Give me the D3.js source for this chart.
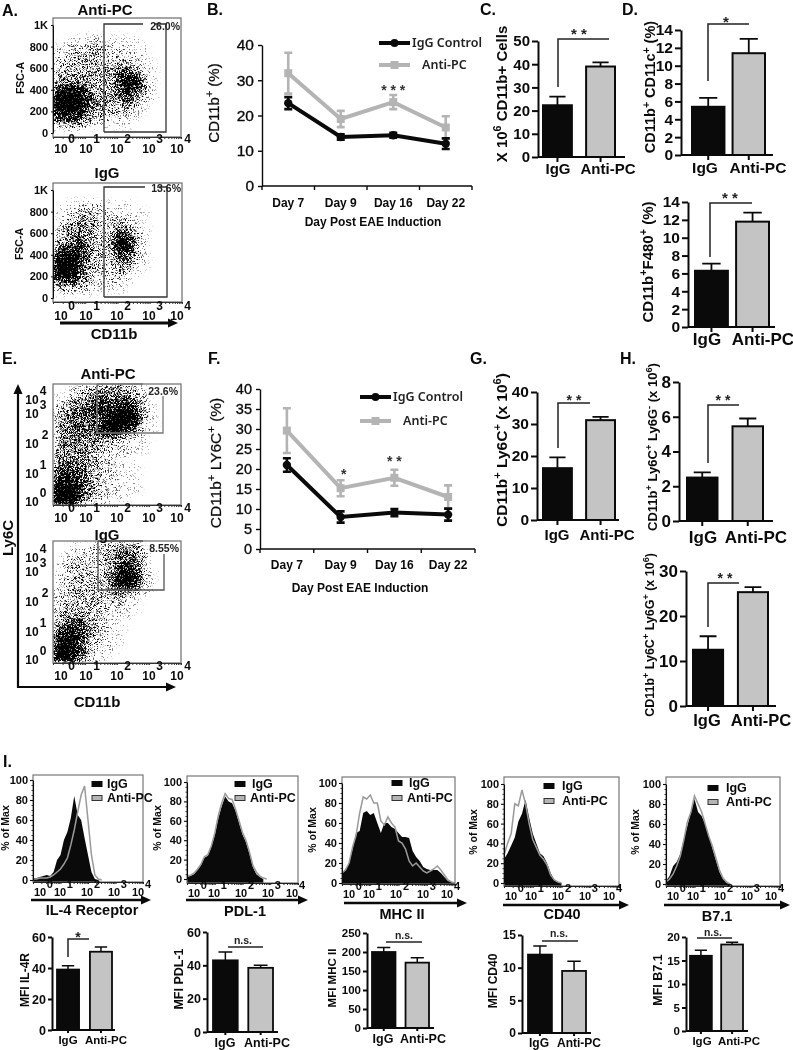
<!DOCTYPE html>
<html><head><meta charset="utf-8">
<script src="https://cdnjs.cloudflare.com/ajax/libs/d3/7.8.5/d3.min.js"></script>
<style>
html,body{margin:0;padding:0;background:#fff}
svg{display:block;font-family:"Liberation Sans",Arial,sans-serif;filter:blur(.3px)}
</style></head><body>
<svg id="fig" width="793" height="1050"></svg>
<script>
// ---------- DATA ----------
const groups = ['IgG','Anti-PC'];
const days = ['Day 7','Day 9','Day 16','Day 22'];

const bIgG = [23.5,13.9,14.4,12];
const bIgGErr = [1.7,0.8,0.7,1.5];
const bAnti = [32,19,23.8,16.6];
const bAntiErr = [5.8,2.3,2,3.2];

const fIgG = [21,8,9.1,8.6];
const fIgGErr = [1.7,1.4,0.9,1.5];
const fAnti = [29.6,15.2,17.8,13];
const fAntiErr = [5.6,2,2,2.9];

const cValues=[22.3,39],   cTops=[26,40.8];
const d1Values=[5.4,11.4], d1Tops=[6.4,13];
const d2Values=[6.3,11.8], d2Tops=[7.1,12.8];
const gValues=[16.2,31.2], gTops=[19.6,32.2];
const h1Values=[2.5,5.45], h1Tops=[2.8,5.9];
const h2Values=[12.5,25.3],h2Tops=[15.5,26.4];
const m1Values=[39,50.5],  m1Tops=[41.5,53.5];
const m2Values=[43,38.5],  m2Tops=[48,40];
const m3Values=[200,172],  m3Tops=[212,185];
const m4Values=[12,9.5],   m4Tops=[13.3,11];
const m5Values=[16,18.4],  m5Tops=[17.2,18.9];

// histogram heights (% of max), one value per 1/8 decade from the left of the axis
const il4IgG =[2,2,3,4,5,4,8,20,25,40,48,62,84,65,60,42,25,8,1,0];
const il4Anti=[1,1,2,2,2,3,5,8,11,16,22,35,50,68,85,94,60,25,5,1,0];
const pdlIgG =[2,3,5,9,14,22,24,33,45,62,75,85,80,78,70,58,46,38,26,12,5,2,0];
const pdlAnti=[3,4,6,10,15,23,25,34,47,65,78,88,83,82,72,60,48,40,28,14,7,3,1,0];
const mhcIgG =[10,14,20,34,50,52,70,72,68,70,60,50,60,60,56,54,50,46,46,45,32,26,22,16,14,13,13,13,10,6,2,1,0];
const mhcAnti=[10,13,20,36,48,70,86,84,88,80,80,62,58,66,60,56,42,40,34,22,17,20,16,12,10,12,14,17,13,8,3,1,0];
const cd40IgG =[24,30,38,46,62,70,84,66,50,40,30,27,20,10,3,1,0];
const cd40Anti=[28,40,50,80,78,94,80,60,44,36,28,24,18,8,3,1,0];
const b71IgG =[3,8,18,22,30,45,58,72,85,72,68,60,48,36,24,12,5,1,0];
const b71Anti=[2,5,10,18,28,44,62,72,88,80,72,60,48,38,26,14,6,2,0];

// event density of the flow plots, read per cell of a 16 x 14 grid (0 empty .. 9 solid)
const flowA1 = ['0000000000000000','0000000000000000','0011221111100000','1222332221110000','2233332222210000','2333333333211000','3333433466521000','4444433478731000','7887433468631000','9999643446421000','9998543333210000','7776433222100000','3443211111000000','0000000000000000'];
const flowA2 = ['0000000000000000','0000000000000000','0112221111000000','1123332221110000','1234433332100000','2344432454210000','2355432576310000','4566432687310000','7886432465210000','9986432344210000','9985322232100000','6664322221000000','2332211110000000','0000000000000000'];
const flowE1 = ['0022244443210000','1133455555320000','2345566677521000','3455667799731000','3455557999621000','3455559875311000','3444443321110000','3444433222110000','4444432211000000','5555432211100000','6776432211100000','8876433211100000','9996432211100000','9995322110000000'];
const flowE2 = ['0011222344310000','0122223455420000','1233223466520000','1233323578621000','1233333689721000','2233333465421000','2333332332100000','2333332221100000','3344332211000000','4566432110000000','5776432110000000','7886322110000000','8986322100000000','8975211000000000'];

const fscTicks=[0,200,400,600,800,1000];
const ly6Exps=[0,1,2,3,4];
const pctTicks=[0,20,40,60,80,100];
const pctMinor=[5,10,15,25,30,35,45,50,55,65,70,75,85,90,95];

// ---------- HELPERS ----------
const svg=d3.select('#fig');
const defs=svg.append('defs');
const BLACK='#0a0a0a', GREY='#b4b4b4', BARGREY='#c4c4c4', BOX='#777';

function label(g,x,y,str,o={}){
  const t=g.append('text').attr('x',x).attr('y',y).attr('dy','.35em')
    .attr('font-size',o.size||12).attr('font-weight',o.weight||'bold')
    .attr('text-anchor',o.anchor||'middle').attr('fill',o.fill||BLACK);
  if(o.family)t.attr('font-family',o.family);
  if(o.rot!=null)t.attr('transform',`rotate(${o.rot} ${x} ${y})`);
  str.split(/(\^\{.*?\})/).forEach(p=>{
    if(!p)return;
    const m=p.match(/^\^\{(.*)\}$/);
    if(m)t.append('tspan').attr('baseline-shift','super').attr('font-size',(o.size||12)*.72).text(m[1]);
    else t.append('tspan').text(p);
  });
  return t;
}
// "10" with a raised exponent set as one text
function powerLabel(g,xBase,xExp,y,exp,size,rise){
  const half=size*.556, dig=size*.278;
  const t=g.append('text').attr('x',xBase-half-1).attr('y',y).attr('dy','.35em')
    .attr('font-size',size).attr('font-weight','bold').attr('fill',BLACK);
  t.append('tspan').text('10');
  t.append('tspan').attr('dx',Math.max(.5,(xExp-dig)-(xBase+half-1))).attr('dy',-rise).text(String(exp));
}
function arrow(g,x1,y1,x2,y2,w=3){
  const ang=Math.atan2(y2-y1,x2-x1), hl=10, hw=4.5;
  const bx=x2-hl*Math.cos(ang), by=y2-hl*Math.sin(ang);
  g.append('line').attr('x1',x1).attr('y1',y1).attr('x2',bx).attr('y2',by).attr('stroke',BLACK).attr('stroke-width',w);
  g.append('path').attr('fill',BLACK).attr('d',d3.line()([[x2,y2],[bx-hw*Math.sin(ang),by+hw*Math.cos(ang)],[bx+hw*Math.sin(ang),by-hw*Math.cos(ang)]])+'Z');
}
function styleAxis(a,size,weight,sw=2){
  a.selectAll('path,line').attr('stroke',BLACK).attr('stroke-width',sw);
  a.selectAll('text').attr('font-size',size).attr('font-weight',weight).attr('fill',BLACK).attr('font-family','inherit');
}

// ---------- BAR PANELS ----------
function barPanel(L,values,tops){
  const g=svg.append('g');
  const y=d3.scaleLinear().domain([0,L.max]).range([L.y0,L.y1]);
  const x=d3.scaleBand().domain(groups).range(L.bars).paddingInner(L.pad);
  g.selectAll('rect').data(groups).join('rect')
    .attr('x',d=>x(d)).attr('width',x.bandwidth())
    .attr('y',(d,i)=>y(values[i])).attr('height',(d,i)=>L.y0-y(values[i]))
    .attr('fill',(d,i)=>i?BARGREY:BLACK).attr('stroke',BLACK).attr('stroke-width',L.bw||2);
  g.selectAll('path.err').data(groups).join('path').attr('class','err')
    .attr('fill','none').attr('stroke',BLACK).attr('stroke-width',L.ew||1.8)
    .attr('d',(d,i)=>{const c=x(d)+x.bandwidth()/2,h=x.bandwidth()*.28;
      return `M${c},${y(values[i])}V${y(tops[i])}M${c-h},${y(tops[i])}H${c+h}`;});
  const ya=g.append('g').attr('transform',`translate(${L.ax},0)`)
    .call(d3.axisLeft(y).tickValues(L.ticks).tickSize(L.ts||6).tickPadding(2).tickSizeOuter(0));
  styleAxis(ya,L.tf,'bold');
  const xa=g.append('g').attr('transform',`translate(0,${L.y0})`)
    .call(d3.axisBottom(x).tickSize(L.ts?L.ts-1:5).tickFormat('').tickSizeOuter(0));
  xa.select('path').attr('d',`M${L.ax},0H${L.xEnd}`);
  styleAxis(xa,L.lf,'bold');
  groups.forEach((s,i)=>label(g,L.lx[i],L.ly,s,{size:L.lf}));
  label(g,L.yl[0],L.yl[1],L.title,{size:L.yf,rot:-90});
  if(L.sig){
    const s=L.sig;
    g.append('path').attr('fill','none').attr('stroke','#222').attr('stroke-width',1.5)
      .attr('d',s.drop!=null?`M${s.x1},${s.drop}V${s.y}H${s.x2}`:`M${s.x1},${s.y}H${s.x2}`);
    label(g,s.tx,s.ty,s.text,{size:s.size||14,fill:'#222'});
  }
}
barPanel({max:50,y0:157,y1:41,ax:538,xEnd:625,bars:[543,615],pad:.33,ticks:[0,10,20,30,40,50],tf:15,lf:15,lx:[558,608],ly:169,yl:[502,94],yf:15,
  title:'X 10^{6} CD11b+ Cells',sig:{x1:558,x2:609,drop:87,y:39,tx:579,ty:34,text:'* *',size:15}},cValues,cTops);
barPanel({max:14,y0:155,y1:30,ax:681,xEnd:773,bars:[692,765],pad:.2,ticks:[0,2,4,6,8,10,12,14],tf:15.5,lf:15.5,lx:[705,758],ly:168,yl:[650,87],yf:14.5,
  title:'CD11b^{+} CD11c^{+} (%)',sig:{x1:708,x2:749,drop:81,y:24,tx:726,ty:22,text:'*',size:15}},d1Values,d1Tops);
barPanel({max:14,y0:327,y1:202,ax:688,xEnd:775,bars:[695,769],pad:.2,ticks:[0,2,4,6,8,10,12,14],tf:15.5,lf:17,lx:[707,763],ly:339,yl:[648,262],yf:15,
  title:'CD11b^{+}F480^{+} (%)',sig:{x1:710,x2:752,drop:257,y:203,tx:730,ty:198,text:'* *',size:15}},d2Values,d2Tops);
barPanel({max:40,y0:520,y1:392,ax:537,xEnd:619,bars:[543,615],pad:.33,ticks:[0,10,20,30,40],tf:15.5,lf:15,lx:[557,607],ly:535,yl:[502,450],yf:15.5,
  title:'CD11b^{+} Ly6C^{+}  (x 10^{6})',sig:{x1:558,x2:590,drop:448,y:403,tx:574,ty:400,text:'* *',size:14}},gValues,gTops);
barPanel({max:8,y0:521,y1:382,ax:679,xEnd:773,bars:[687,763],pad:.33,ticks:[0,2,4,6,8],tf:17,lf:17,lx:[703,756],ly:537,yl:[652,447],yf:13,
  title:'CD11b^{+} Ly6C^{+} Ly6G^{-} (x 10^{6})',sig:{x1:708,x2:739,drop:463,y:405,tx:723,ty:400,text:'* *',size:14}},h1Values,h1Tops);
barPanel({max:30,y0:706,y1:571,ax:686,xEnd:776,bars:[693,768],pad:.33,ticks:[0,10,20,30],tf:17,lf:16.5,lx:[707,761],ly:720,yl:[650,635],yf:12.5,
  title:'CD11b^{+} Ly6C^{+} Ly6G^{+} (x 10^{6})',sig:{x1:708,x2:739,drop:627,y:583,tx:725,ty:578,text:'* *',size:14}},h2Values,h2Tops);

const mB={bw:1.8,ew:1.5,ts:4};
barPanel({...mB,max:60,y0:1030,y1:937,ax:52,xEnd:115,bars:[57,112],pad:.33,ticks:[0,20,40,60],tf:12.5,lf:11.5,lx:[68,106],ly:1040,yl:[25,980],yf:12,
  title:'MFI  IL-4R',sig:{x1:68,x2:89,drop:957,y:939,tx:78,ty:937,text:'*',size:14}},m1Values,m1Tops);
barPanel({...mB,max:60,y0:1032,y1:932,ax:207,xEnd:278,bars:[213,273],pad:.3,ticks:[0,20,40,60],tf:12.5,lf:12.5,lx:[225,267],ly:1043,yl:[179,979],yf:12.5,
  title:'MFI  PDL-1',sig:{x1:228,x2:263,y:947,tx:243,ty:940,text:'n.s.',size:10.5}},m2Values,m2Tops);
barPanel({...mB,max:250,y0:1028,y1:933,ax:367,xEnd:434,bars:[372,429],pad:.3,ticks:[0,50,100,150,200,250],tf:11.5,lf:12.5,lx:[383,423],ly:1039,yl:[332,978],yf:11.5,
  title:'MFI  MHC II',sig:{x1:386,x2:422,y:942,tx:404,ty:935,text:'n.s.',size:10.5}},m3Values,m3Tops);
barPanel({...mB,max:15,y0:1033,y1:935,ax:522,xEnd:591,bars:[528,586],pad:.3,ticks:[0,5,10,15],tf:12,lf:12,lx:[539,579],ly:1043,yl:[493,981],yf:12,
  title:'MFI CD40',sig:{x1:542,x2:578,y:941,tx:559,ty:933,text:'n.s.',size:10.5}},m4Values,m4Tops);
barPanel({...mB,max:20,y0:1031,y1:937,ax:686,xEnd:748,bars:[690,743],pad:.3,ticks:[0,5,10,15,20],tf:11.5,lf:11.5,lx:[702,739],ly:1041,yl:[658,980],yf:12.5,
  title:'MFI  B7.1',sig:{x1:697,x2:732,y:938,tx:713,ty:932,text:'n.s.',size:10.5}},m5Values,m5Tops);

// ---------- LINE PANELS ----------
function linePanel(L){
  const g=svg.append('g');
  const y=d3.scaleLinear().domain([0,40]).range([L.y0,L.y1]);
  const x=d3.scaleBand().domain(days).range([L.ax,L.xEnd]);
  const cx=d=>x(d)+x.bandwidth()/2;
  const ya=g.append('g').attr('transform',`translate(${L.ax},0)`)
    .call(d3.axisLeft(y).tickValues(L.ticks).tickSize(4).tickPadding(4).tickSizeOuter(0));
  styleAxis(ya,L.tf,'normal',1.4);
  ya.selectAll('text').attr('stroke',BLACK).attr('stroke-width',.35);
  const xa=g.append('g').attr('transform',`translate(0,${L.y0})`)
    .call(d3.axisBottom(x).tickSize(0).tickFormat(''));
  xa.select('path').attr('d',`M${L.ax},0H${L.xEnd}`);
  styleAxis(xa,12,'bold',1.4);
  xa.selectAll('line.e').data(d3.range(days.length+1)).join('line').attr('class','e')
    .attr('x1',i=>L.ax+i*x.step()).attr('x2',i=>L.ax+i*x.step()).attr('y1',0).attr('y2',4)
    .attr('stroke',BLACK).attr('stroke-width',1.4);
  days.forEach(d=>label(g,cx(d),L.dayY,d,{size:12}));
  label(g,L.xl[0],L.xl[1],'Day Post EAE Induction',{size:12});
  label(g,L.yl[0],L.yl[1],L.title,{size:L.yf,rot:-90,weight:'normal'}).attr('stroke',BLACK).attr('stroke-width',.25);
  const line=d3.line().x(d=>cx(d[0])).y(d=>y(d[1]));
  [[L.anti,L.antiErr,GREY,'sq'],[L.igg,L.iggErr,BLACK,'ci']].forEach(([v,e,col,m])=>{
    const pts=days.map((d,i)=>[d,v[i]]);
    g.selectAll(null).data(days).join('path').attr('fill','none').attr('stroke',col).attr('stroke-width',2.6)
      .attr('d',(d,i)=>`M${cx(d)},${y(v[i]-e[i])}V${y(v[i]+e[i])}M${cx(d)-4},${y(v[i]+e[i])}H${cx(d)+4}M${cx(d)-4},${y(v[i]-e[i])}H${cx(d)+4}`);
    g.append('path').attr('d',line(pts)).attr('fill','none').attr('stroke',col).attr('stroke-width',4);
    const sym=d3.symbol().type(m==='sq'?d3.symbolSquare:d3.symbolCircle).size(m==='sq'?64:55);
    g.selectAll(null).data(pts).join('path').attr('d',sym).attr('fill',col)
      .attr('transform',d=>`translate(${cx(d[0])},${y(d[1])})`);
  });
  L.stars.forEach(s=>label(g,cx(days[s[0]])+s[3],s[1],s[2],{size:14,fill:'#333'}));
  const leg=d3.symbol();
  [[L.leg[0],GREY,'sq',L.leg[4],'Anti-PC',L.leg[3]],[L.leg[0],BLACK,'ci',L.leg[2],'IgG Control',L.leg[1]]].forEach(([x0,col,m,tx,name,ly])=>{
    g.append('line').attr('x1',x0).attr('x2',x0+31).attr('y1',ly).attr('y2',ly).attr('stroke',col).attr('stroke-width',4);
    g.append('path').attr('d',leg.type(m==='sq'?d3.symbolSquare:d3.symbolCircle).size(m==='sq'?64:50)())
      .attr('fill',col).attr('transform',`translate(${x0+15.5},${ly})`);
    label(g,tx,ly,name,{size:12.5,anchor:'start',weight:600,family:'"Noto Sans"',fill:'#222'});
  });
}
linePanel({y0:186,y1:45,ax:262,xEnd:472,ticks:[0,10,20,30,40],tf:15.5,dayY:203,xl:[373,222],yl:[214,103],yf:15,title:'CD11b^{+} (%)',
  igg:bIgG,iggErr:bIgGErr,anti:bAnti,antiErr:bAntiErr,stars:[[2,90,'* * *',0]],leg:[379,43,412,65,422]});
linePanel({y0:549,y1:389,ax:260,xEnd:475,ticks:[0,5,10,15,20,25,30,35,40],tf:14.5,dayY:565,xl:[360,588],yl:[216,463],yf:15.5,title:'CD11b^{+} LY6C^{+} (%)',
  igg:fIgG,iggErr:fIgGErr,anti:fAnti,antiErr:fAntiErr,stars:[[1,474,'*',3],[2,461,'* *',0]],leg:[360,397,393,421,403]});

// ---------- FLOW PANELS ----------
let uid=0;
function flowPanel(L,density){
  const id='f'+(++uid);
  const g=svg.append('g');
  const W=L.box[2]-L.box[0],H=L.box[3]-L.box[1];
  const f=defs.append('filter').attr('id','st'+id).attr('x','-10%').attr('y','-10%').attr('width','120%').attr('height','120%')
    .attr('color-interpolation-filters','sRGB');
  f.append('feGaussianBlur').attr('in','SourceAlpha').attr('stdDeviation',3.4).attr('result','d');
  f.append('feTurbulence').attr('type','fractalNoise').attr('baseFrequency',1.73).attr('numOctaves',1).attr('seed',uid*7).attr('result','t');
  f.append('feColorMatrix').attr('in','t').attr('values','0 0 0 0 0 0 0 0 0 0 0 0 0 0 0 0 0 0 2.6 -0.8').attr('result','n');
  f.append('feComposite').attr('in','d').attr('in2','n').attr('operator','arithmetic').attr('k1',0).attr('k2',1.3).attr('k3',1).attr('k4',-1).attr('result','c');
  const ct=f.append('feComponentTransfer').attr('in','c').attr('result','s');
  ct.append('feFuncA').attr('type','linear').attr('slope',2.4).attr('intercept',0);
  const col=d3.scaleBand().domain(d3.range(16)).range([L.box[0],L.box[2]]);
  const row=d3.scaleBand().domain(d3.range(14)).range([L.box[1],L.box[3]]);
  const alpha=d3.scalePow().exponent(.9).domain([0,9]).range([0,1]);
  defs.append('clipPath').attr('id','cl'+id).append('rect').attr('x',L.box[0]).attr('y',L.box[1]).attr('width',W).attr('height',H);
  const cells=[];
  density.forEach((r,j)=>[...r].forEach((c,i)=>{if(+c>0)cells.push({i,j,v:+c});}));
  g.append('g').attr('clip-path',`url(#cl${id})`).append('g').attr('filter',`url(#st${id})`)
    .selectAll('rect').data(cells).join('rect')
    .attr('x',d=>col(d.i)).attr('y',d=>row(d.j)).attr('width',col.bandwidth()+.5).attr('height',row.bandwidth()+.5)
    .attr('fill','#000').attr('fill-opacity',d=>alpha(d.v));
  g.append('rect').attr('x',L.box[0]).attr('y',L.box[1]).attr('width',W).attr('height',H).attr('fill','none').attr('stroke',BOX).attr('stroke-width',1.3);
  // log axis along the bottom
  const lx=d3.scaleLog().domain([1,1e4]).range([L.box[0],L.box[2]]);
  const xa=g.append('g').attr('transform',`translate(0,${L.box[3]})`)
    .call(d3.axisBottom(lx).tickValues(lx.ticks()).tickFormat('').tickSize(2).tickSizeOuter(0));
  xa.selectAll('line').attr('stroke','#333'); xa.select('path').attr('stroke','#333');
  flowLabelX.forEach((v,i)=>powerLabel(g,v[0],v[1],L.xLab,i,12,10));
  // gate
  g.append('path').attr('fill','none').attr('stroke',L.gateCol).attr('stroke-width',1.3).attr('d',L.gate);
  label(g,L.pct[0],L.pct[1],L.pct[2],{size:10.5,anchor:'end',fill:'#222',weight:'bold'});
  label(g,L.tt[0],L.tt[1],L.tt[2],{size:15});
  if(L.fsc){
    const y=d3.scaleLinear().domain([0,1000]).range(L.fsc);
    const ya=g.append('g').attr('transform',`translate(${L.box[0]},0)`)
      .call(d3.axisLeft(y).tickValues(fscTicks).tickSize(2).tickPadding(3).tickSizeOuter(0).tickFormat(d=>d===1000?'1K':d));
    styleAxis(ya,11,'bold',1);
    label(g,L.fl[0],L.fl[1],'FSC-A',{size:10.5,rot:-90});
  }else{
    ly6Exps.forEach((e,i)=>powerLabel(g,33,e===2?45:43,L.ly6[i],e,12,9.5));
  }
}
const flowLabelX=[[62,71],[87,95],[118,127],[150,158],[178,186]];
flowPanel({box:[53,18,181,137],xLab:149,gate:'M104,132V24H143M155,24H166V132H104',gateCol:'#333',pct:[180,26,'26.0%'],tt:[105,10,'Anti-PC'],fsc:[133,25],fl:[20,78]},flowA1);
flowPanel({box:[53,183,182,302],xLab:316,gate:'M104,297V187H145M157,187H167V297H104',gateCol:'#333',pct:[181,188,'13.6%'],tt:[107,173,'IgG'],fsc:[298,190],fl:[19,244]},flowA2);
flowPanel({box:[53,384,181,505],xLab:518,gate:'M97,384V433H163V396M97,384H143',gateCol:'#777',pct:[178,391,'23.6%'],tt:[108,374,'Anti-PC'],ly6:[502,474,444,414,400]},flowE1);
flowPanel({box:[53,541,181,663],xLab:676,gate:'M98,541V590H164V554M98,541H143',gateCol:'#555',pct:[179,548,'8.55%'],tt:[107,535,'IgG'],ly6:[660,632,602,572,558]},flowE2);

const gx=svg.append('g');
arrow(gx,60,323,178,323,3.2);
label(gx,114,334,'CD11b',{size:15});
arrow(gx,18,688,18,384,2.2);
arrow(gx,17,687,176,687,2.2);
label(gx,8,538,'Ly6C',{size:15,rot:-90});
label(gx,97,702,'CD11b',{size:15});

// ---------- HISTOGRAMS ----------
function histPanel(L,igg,anti){
  const g=svg.append('g');
  const x=d3.scaleLinear().domain([0,32]).range([L.box[0],L.box[2]]);
  const y=d3.scaleLinear().domain([0,100]).range(L.ys);
  const base=L.box[3];
  g.append('path').attr('fill',BLACK)
    .attr('d',d3.area().x((d,i)=>x(i)).y0(base).y1(d=>y(d))(igg));
  g.append('path').attr('fill','none').attr('stroke','#9a9a9a').attr('stroke-width',1.5)
    .attr('d',d3.line().x((d,i)=>x(i)).y(d=>y(d))(anti));
  g.append('rect').attr('x',L.box[0]).attr('y',L.box[1]).attr('width',L.box[2]-L.box[0]).attr('height',L.box[3]-L.box[1])
    .attr('fill','none').attr('stroke',BOX).attr('stroke-width',1.2);
  const yMinor=g.append('g').attr('transform',`translate(${L.box[0]},0)`)
    .call(d3.axisLeft(y).tickValues(pctMinor).tickFormat('').tickSize(1.5).tickSizeOuter(0));
  yMinor.selectAll('line').attr('stroke','#333');
  yMinor.select('path').attr('stroke','none');
  const ya=g.append('g').attr('transform',`translate(${L.box[0]},0)`)
    .call(d3.axisLeft(y).tickValues(pctTicks).tickSize(3).tickPadding(2).tickSizeOuter(0));
  styleAxis(ya,11,'bold',1.1);
  const lx=d3.scaleLog().domain([1,1e4]).range([L.box[0],L.box[2]]);
  const xa=g.append('g').attr('transform',`translate(0,${L.box[3]})`)
    .call(d3.axisBottom(lx).tickValues(lx.ticks()).tickFormat('').tickSize(2).tickSizeOuter(0));
  xa.selectAll('line,path').attr('stroke','#222');
  histLabelX.forEach((v,i)=>powerLabel(g,L.box[0]+v[0],L.box[0]+v[1],L.box[3]+10.5,i,11,8));
  arrow(g,L.arr[0],L.arr[2],L.arr[1],L.arr[2],2.6);
  label(g,L.name[0],L.name[1],L.name[2],{size:14.5});
  label(g,L.pm[0],L.pm[1],'% of Max',{size:10.5,rot:-90});
  const r=L.leg;
  g.append('rect').attr('x',r[0]).attr('y',r[1]-2.5).attr('width',10).attr('height',5).attr('fill',BLACK).attr('stroke',BLACK);
  g.append('rect').attr('x',r[0]).attr('y',r[2]-2.5).attr('width',10).attr('height',5).attr('fill',GREY).attr('stroke','#333');
  label(g,r[3],r[1],'IgG',{size:12.5,anchor:'start'});
  label(g,r[4],r[2],'Anti-PC',{size:12.5,anchor:'start'});
}
const histLabelX=[[8,16],[28,36],[55,64],[82,90],[106,115]];
histPanel({box:[33,775,143,882],ys:[880,780],arr:[31,151,900],name:[92,910,'IL-4 Receptor'],pm:[5,828],leg:[92,784,798,107,107]},il4IgG,il4Anti);
histPanel({box:[187,776,298,883],ys:[879,782],arr:[186,308,900],name:[245,911,'PDL-1'],pm:[157,828],leg:[235,784,798,252,250]},pdlIgG,pdlAnti);
histPanel({box:[342,777,455,884],ys:[883,783],arr:[344,467,903],name:[402,914,'MHC II'],pm:[312,830],leg:[392,783,798,409,407]},mhcIgG,mhcAnti);
histPanel({box:[504,777,619,886],ys:[883,784],arr:[503,629,905],name:[562,914,'CD40'],pm:[473,832],leg:[544,786,801,562,562]},cd40IgG,cd40Anti);
histPanel({box:[666,777,780,886],ys:[884,784],arr:[664,790,905],name:[717,916,'B7.1'],pm:[635,832],leg:[708,788,802,726,726]},b71IgG,b71Anti);

// ---------- PANEL LETTERS ----------
[['A.',2,10],['B.',207,9],['C.',480,9],['D.',622,9],['E.',2,358],['F.',208,358],['G.',470,358],['H.',620,358],['I.',3,761]]
 .forEach(d=>label(svg,d[1],d[2],d[0],{size:16,anchor:'start'}));
</script>
</body></html>
